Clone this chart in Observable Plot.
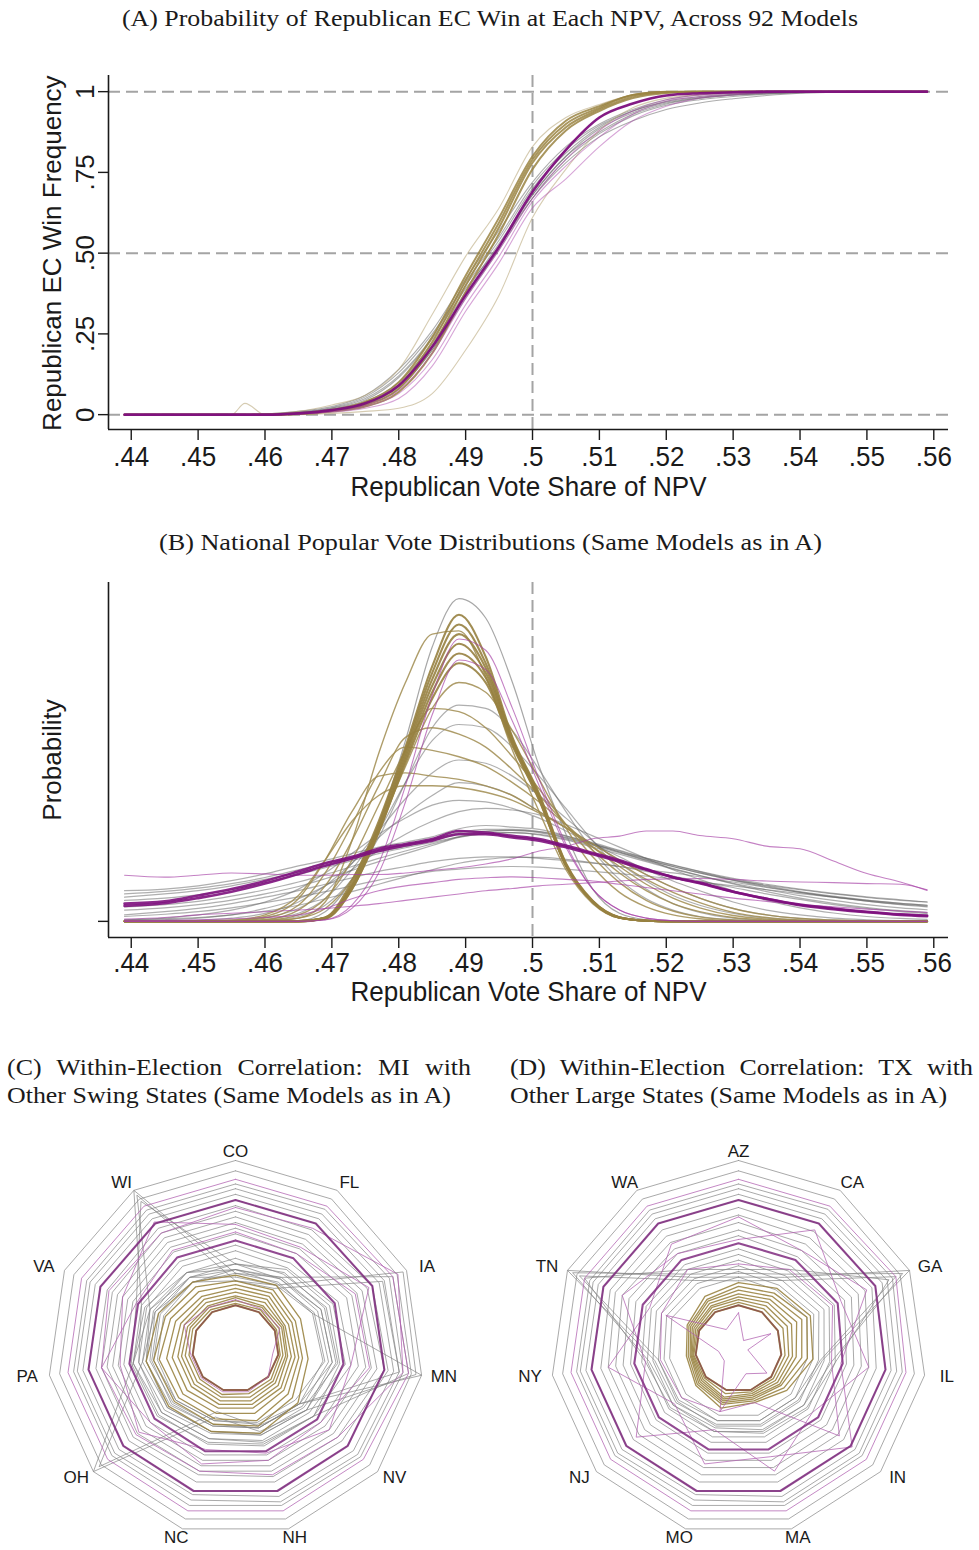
<!DOCTYPE html>
<html>
<head>
<meta charset="utf-8">
<script src="https://cdn.jsdelivr.net/npm/d3@7"></script>
<script src="https://cdn.jsdelivr.net/npm/@observablehq/plot@0.6"></script>
<style>
html,body{margin:0;padding:0;background:#fff;}
#root{position:relative;width:979px;height:1550px;overflow:hidden;background:#fff;}
.panel{position:absolute;}
.ttl{position:absolute;font-family:"Liberation Serif","Times New Roman",serif;font-size:24px;line-height:28px;white-space:nowrap;color:#1a1a1a;}
</style>
</head>
<body>
<div id="root"></div>
<script>
// ---------------- shared axis data ----------------
const xTicks = [.44,.45,.46,.47,.48,.49,.5,.51,.52,.53,.54,.55,.56];
const xTickLabels = [".44",".45",".46",".47",".48",".49",".5",".51",".52",".53",".54",".55",".56"];
const yTicksA = [0,.25,.5,.75,1];
const yTickLabelsA = ["0",".25",".50",".75","1"];
const yGuidesA = [0,.5,1];
const npvCut = [.5];

// ---------------- panel A: EC win frequency ----------------
const xA = [.439,.445,.45,.455,.457,.46,.465,.47,.475,.48,.485,.49,.495,.5,.505,.51,.515,.52,.525,.53,.535,.54,.545,.55,.559];
const aGray = [
  [0,0,0,0,0,.002,.008,.022,.055,.13,.25,.40,.54,.70,.81,.89,.94,.97,.985,.992,.996,1,1,1,1],
  [0,0,0,0,0,0,.005,.015,.04,.10,.22,.38,.53,.68,.80,.885,.935,.965,.98,.99,.995,.998,1,1,1],
  [0,0,0,0,0,0,.003,.01,.03,.08,.2,.36,.51,.67,.79,.87,.925,.958,.975,.985,.992,.997,1,1,1],
  [0,0,0,0,0,.001,.006,.018,.045,.115,.235,.39,.52,.68,.80,.875,.93,.962,.98,.99,.994,.997,.999,1,1],
  [0,0,0,0,0,0,.002,.01,.03,.085,.2,.37,.52,.67,.78,.86,.91,.945,.965,.978,.988,.995,.998,1,1],
  [0,0,0,0,0,.002,.01,.025,.06,.14,.26,.42,.57,.72,.83,.90,.945,.975,.99,.995,.998,1,1,1,1],
  [0,0,0,0,0,.001,.007,.02,.05,.12,.24,.41,.55,.71,.82,.895,.94,.968,.982,.99,.995,.998,1,1,1]
];
const aGoldLight = [
  [0,0,0,0,0,.002,.01,.03,.06,.14,.31,.49,.64,.83,.92,.96,.99,1,1,1,1,1,1,1,1],
  [0,0,0,0,.035,0,0,.004,.01,.02,.065,.2,.37,.61,.76,.88,.95,.98,.99,.995,1,1,1,1,1]
];
const aGold = [
  [0,0,0,0,0,0,.003,.012,.03,.08,.21,.40,.58,.78,.89,.945,.985,.998,1,1,1,1,1,1,1],
  [0,0,0,0,0,0,.002,.01,.025,.07,.19,.38,.56,.76,.88,.94,.98,.996,1,1,1,1,1,1,1],
  [0,0,0,0,0,0,.004,.015,.04,.10,.24,.43,.61,.80,.91,.955,.99,1,1,1,1,1,1,1,1],
  [0,0,0,0,0,0,.003,.013,.035,.09,.225,.415,.595,.79,.90,.95,.99,.999,1,1,1,1,1,1,1]
];
const aPurpleLight = [
  [0,0,0,0,0,0,.002,.008,.02,.05,.15,.32,.47,.64,.73,.83,.91,.955,.98,.99,.996,1,1,1,1],
  [0,0,0,0,0,0,.002,.01,.025,.065,.17,.34,.49,.66,.77,.86,.93,.97,.985,.995,1,1,1,1,1],
  [0,0,0,0,0,0,.003,.012,.03,.075,.19,.36,.51,.67,.79,.88,.94,.975,.99,.997,1,1,1,1,1]
];
const aPurpleMain = [
  [0,0,0,0,0,0,.004,.014,.035,.09,.21,.37,.52,.69,.82,.92,.963,.988,.995,.998,1,1,1,1,1]
];

// ---------------- panel B: NPV distributions ----------------
const xB = [.439,.445,.45,.455,.46,.465,.469,.473,.477,.481,.485,.489,.493,.497,.501,.505,.509,.513,.517,.521,.525,.53,.535,.54,.545,.55,.555,.559];
const bGoldNarrow = [
  [0,0,0,0,0,0,.12,1.25,3.1,5.4,7.9,9.5,8.2,5.7,3.95,1.8,.64,.12,.02,0,0,0,0,0,0,0,0,0],
  [0,0,0,0,0,0,.1,1.15,3.0,5.3,7.7,9.2,8.0,5.65,3.9,1.78,.62,.12,.02,0,0,0,0,0,0,0,0,0],
  [0,0,0,0,0,0,.1,1.1,2.9,5.2,7.5,8.9,7.85,5.6,3.85,1.75,.6,.11,.02,0,0,0,0,0,0,0,0,0],
  [0,0,0,0,0,0,.08,1.0,2.8,5.1,7.3,8.6,7.7,5.55,3.8,1.72,.6,.11,.02,0,0,0,0,0,0,0,0,0],
  [0,0,0,0,0,.01,.1,1.0,2.75,5.0,7.1,8.3,7.55,5.5,3.78,1.72,.6,.12,.02,0,0,0,0,0,0,0,0,0],
  [0,0,0,0,0,.01,.12,1.05,2.8,4.9,6.9,8.0,7.4,5.45,3.75,1.72,.62,.13,.02,0,0,0,0,0,0,0,0,0]
];
const bGoldWide = [
  [0,0,0,0,.01,.1,.6,2.5,5.2,7.4,8.9,9.0,7.6,5.3,3.4,1.6,.55,.1,.02,0,0,0,0,0,0,0,0,0],
  [0,0,0,0,.02,.1,.4,1.3,2.9,4.8,6.6,7.4,7.1,5.9,4.4,2.9,1.7,.9,.45,.2,.08,.02,0,0,0,0,0,0],
  [0,0,0,0,.03,.2,.7,1.9,3.6,5.3,6.6,6.5,6.0,5.1,4.1,3.0,2.0,1.2,.65,.32,.14,.04,.01,0,0,0,0,0],
  [0,0,0,0,.05,.35,1.1,2.5,4.2,5.7,6.0,5.8,5.4,4.7,3.9,3.0,2.2,1.5,.95,.55,.3,.12,.04,.01,0,0,0,0],
  [0,0,0,.01,.1,.5,1.5,3.0,4.6,5.4,5.3,5.1,4.8,4.3,3.7,3.0,2.3,1.7,1.15,.72,.42,.18,.07,.02,0,0,0,0],
  [0,0,0,.02,.15,.7,1.9,3.4,4.5,4.6,4.5,4.4,4.2,3.9,3.4,2.9,2.3,1.8,1.3,.9,.58,.28,.12,.04,.01,0,0,0],
  [0,0,.01,.04,.2,.8,1.9,3.1,3.9,4.2,4.2,4.15,4.0,3.75,3.35,2.9,2.4,1.9,1.45,1.05,.72,.4,.2,.09,.04,.01,0,0]
];
const bGrayTall = [
  [0,0,0,0,0,.02,.3,1.3,3.0,5.6,8.5,10.0,9.4,7.4,4.8,2.7,1.0,.25,.05,0,0,0,0,0,0,0,0,0]
];
const bGray = [
  [0,0,0,0,.03,.15,.5,1.3,2.6,4.3,6.0,6.7,6.6,5.9,4.7,3.4,2.2,1.3,.7,.35,.15,.05,.01,0,0,0,0,0],
  [0,0,0,.01,.06,.25,.7,1.6,2.8,4.3,5.6,6.1,6.0,5.4,4.5,3.5,2.5,1.6,1.0,.55,.28,.1,.03,.01,0,0,0,0],
  [0,0,0,.03,.12,.4,.9,1.8,2.8,3.8,4.6,5.0,4.9,4.5,3.9,3.2,2.5,1.8,1.25,.8,.5,.25,.1,.04,.01,0,0,0],
  [0,.01,.03,.1,.25,.6,1.1,1.8,2.6,3.3,3.9,4.3,4.2,3.9,3.4,2.9,2.4,1.9,1.45,1.05,.72,.4,.2,.09,.04,.01,0,0],
  [.05,.1,.2,.35,.6,1.0,1.5,2.1,2.7,3.2,3.6,3.75,3.7,3.5,3.2,2.8,2.4,2.0,1.6,1.25,.95,.6,.35,.2,.1,.05,.02,.01],
  [.02,.05,.1,.2,.4,.7,1.1,1.6,2.2,2.7,3.1,3.4,3.5,3.45,3.3,3.0,2.65,2.3,1.95,1.6,1.3,.95,.65,.42,.26,.15,.09,.06],
  [.95,1.0,1.1,1.26,1.47,1.72,1.89,2.1,2.3,2.46,2.62,2.87,2.97,2.92,2.85,2.65,2.4,2.15,1.9,1.7,1.5,1.28,1.12,.98,.85,.74,.65,.6],
  [.85,.93,1.03,1.17,1.36,1.6,1.8,2.0,2.2,2.38,2.55,2.75,2.85,2.85,2.78,2.6,2.4,2.18,1.95,1.75,1.55,1.33,1.15,1.0,.87,.76,.67,.6],
  [.75,.85,.95,1.1,1.3,1.52,1.72,1.93,2.15,2.32,2.5,2.7,2.8,2.82,2.75,2.58,2.38,2.15,1.92,1.7,1.5,1.27,1.07,.9,.75,.63,.53,.47],
  [.65,.72,.82,.98,1.2,1.45,1.66,1.88,2.1,2.28,2.45,2.62,2.72,2.75,2.68,2.52,2.3,2.08,1.85,1.62,1.42,1.18,.98,.8,.65,.52,.42,.36],
  [.35,.42,.52,.66,.85,1.08,1.32,1.58,1.85,2.1,2.35,2.6,2.72,2.75,2.7,2.55,2.35,2.12,1.88,1.64,1.42,1.16,.92,.72,.56,.43,.33,.27],
  [.45,.52,.62,.78,.98,1.22,1.45,1.7,1.95,2.18,2.4,2.62,2.78,2.82,2.78,2.64,2.44,2.2,1.96,1.74,1.54,1.3,1.1,.92,.78,.66,.56,.5],
  [.2,.3,.4,.55,.75,.95,1.15,1.35,1.55,1.7,1.85,1.95,2.0,2.0,1.95,1.88,1.8,1.7,1.6,1.5,1.38,1.22,1.05,.9,.76,.63,.52,.45],
  [.15,.22,.3,.42,.58,.76,.92,1.1,1.28,1.42,1.55,1.62,1.68,1.7,1.68,1.62,1.55,1.48,1.4,1.32,1.22,1.1,.98,.86,.75,.65,.56,.5],
  [.05,.08,.12,.2,.32,.5,.7,.92,1.15,1.38,1.6,1.8,1.92,1.98,1.98,1.92,1.82,1.7,1.55,1.4,1.25,1.05,.85,.68,.52,.4,.3,.24]
];
const bPurpleLight = [
  [1.43,1.37,1.43,1.5,1.47,1.43,1.43,1.45,1.45,1.5,1.58,1.66,1.78,1.94,2.18,2.32,2.56,2.64,2.8,2.8,2.66,2.56,2.33,2.25,1.87,1.48,1.22,.96],
  [.07,.12,.2,.25,.3,.35,.4,.47,.55,.65,.75,.85,.95,1.02,1.1,1.15,1.2,1.25,1.3,1.32,1.33,1.3,1.25,1.22,1.2,1.17,1.15,.98],
  [.02,.03,.05,.08,.12,.2,.4,.7,.95,1.1,1.2,1.3,1.35,1.38,1.35,1.3,1.25,1.15,1.05,.95,.85,.72,.62,.52,.45,.38,.32,.28],
  [0,0,0,0,0,0,.05,.5,1.8,4.2,7.0,8.75,8.4,6.6,4.4,2.4,1.0,.35,.1,.02,0,0,0,0,0,0,0,0],
  [0,0,0,0,0,0,.04,.4,1.5,3.7,6.4,8.1,7.8,6.2,4.2,2.3,1.0,.35,.1,.02,0,0,0,0,0,0,0,0]
];
const bPurpleMain = [
  [.55,.62,.8,1.0,1.25,1.55,1.8,2.0,2.25,2.4,2.55,2.8,2.75,2.65,2.55,2.35,2.12,1.89,1.62,1.37,1.2,.92,.7,.5,.38,.28,.2,.16],
  [.48,.56,.72,.92,1.17,1.47,1.72,1.95,2.18,2.35,2.5,2.7,2.7,2.6,2.5,2.3,2.08,1.85,1.6,1.37,1.18,.92,.7,.52,.4,.3,.22,.18]
];

// ---------------- panel C: MI radar ----------------
const statesC = ["CO","FL","IA","MN","NV","NH","NC","OH","PA","VA","WI"];
const cGray = [
  [1,1,1,1,1,1,1,1,1,1,1],
  [.945,.945,.945,.945,.945,.945,.945,.945,.945,.945,.945],
  [.875,.88,.9,.9,.88,.87,.87,.87,.87,.87,.875],
  [.85,.85,.87,.88,.86,.85,.84,.85,.85,.85,.85],
  [.82,.82,.84,.85,.83,.82,.81,.82,.82,.82,.82],
  [.79,.79,.8,.8,.79,.79,.79,.79,.79,.79,.79],
  [.76,.75,.8,.82,.75,.74,.74,.75,.75,.75,.76],
  [.73,.72,.77,.8,.72,.71,.7,.72,.72,.72,.73],
  [.70,.69,.74,.76,.69,.68,.68,.69,.69,.69,.70],
  [.67,.66,.71,.73,.66,.65,.65,.66,.66,.66,.67],
  [.64,.63,.68,.70,.63,.62,.62,.63,.63,.63,.64],
  [.61,.60,.65,.66,.60,.59,.59,.60,.60,.60,.61],
  [.55,.54,.60,.62,.55,.54,.53,.54,.55,.55,.55],
  [.52,.51,.57,.59,.52,.51,.50,.52,.52,.52,.52],
  [.48,.47,.53,.55,.48,.47,.46,.48,.48,.48,.48],
  [.45,.44,.50,.52,.45,.44,.43,.45,.45,.45,.45],
  [.42,.41,.46,.48,.42,.41,.40,.42,.42,.42,.42],
  [.40,.45,.50,.52,.50,.48,.47,.50,.52,.55,1.0],
  [.36,.40,.45,.47,.45,.44,.43,.46,.48,.50,.97],
  [.45,.50,.55,.56,.55,.53,.52,.55,.56,.58,.93],
  [.38,.40,.98,.97,.50,.48,.46,.48,.50,.50,.45],
  [.42,.45,.92,.93,.55,.52,.50,.52,.55,.53,.48],
  [.36,.38,.86,.88,.45,.44,.42,.44,.46,.47,.42],
  [.45,.48,.52,.54,.50,.46,.38,1.0,.55,.50,.48],
  [.42,.44,.48,.50,.47,.43,.35,.96,.50,.47,.45],
  [.40,.42,.45,1.0,.45,.42,.40,.42,.44,.44,.42]
];
const cGold = [
  [.39,.40,.38,.39,.44,.47,.46,.47,.48,.45,.42],
  [.36,.37,.35,.36,.40,.43,.42,.43,.44,.41,.39],
  [.34,.35,.33,.34,.37,.40,.39,.40,.41,.38,.36],
  [.32,.33,.31,.32,.34,.36,.36,.37,.37,.35,.33],
  [.30,.31,.29,.30,.32,.33,.33,.34,.34,.32,.31],
  [.28,.29,.28,.28,.30,.31,.31,.31,.31,.30,.29],
  [.27,.27,.27,.27,.28,.29,.29,.29,.29,.28,.27],
  [.255,.26,.255,.255,.265,.27,.27,.27,.27,.265,.26],
  [.24,.245,.24,.24,.25,.25,.255,.25,.25,.25,.245]
];
const cInner = [[.23,.23,.23,.23,.23,.23,.23,.23,.23,.23,.23]];
const cPurpleLight = [
  [.90,.90,.92,.93,.90,.90,.90,.90,.90,.90,.90],
  [.75,.76,.95,.90,.72,.70,.68,.70,.72,.74,.73],
  [.62,.60,.70,.72,.60,.62,.64,.60,.72,.58,.62],
  [.66,.64,.78,.62,.66,.58,.56,.68,.62,.66,.80],
  [.26,.25,.26,.20,.23,.24,.24,.24,.24,.30,.26]
];
const cPurpleThick = [
  [.79,.79,.80,.80,.79,.79,.79,.79,.79,.79,.79],
  [.575,.57,.58,.58,.575,.57,.57,.57,.57,.57,.575]
];

// ---------------- panel D: TX radar ----------------
const statesD = ["AZ","CA","GA","IL","IN","MA","MO","NJ","NY","TN","WA"];
const dGray = [
  [1,1,1,1,1,1,1,1,1,1,1],
  [.945,.945,.945,.945,.945,.945,.945,.945,.945,.945,.945],
  [.875,.88,.9,.88,.87,.87,.87,.87,.87,.87,.875],
  [.85,.85,.87,.85,.85,.85,.84,.85,.85,.85,.85],
  [.82,.82,.84,.82,.82,.82,.81,.82,.82,.82,.82],
  [.79,.79,.8,.79,.79,.79,.79,.79,.79,.79,.79],
  [.75,.74,.78,.74,.74,.74,.74,.74,.74,.75,.75],
  [.71,.70,.74,.70,.70,.70,.70,.70,.70,.72,.71],
  [.67,.66,.70,.66,.66,.66,.66,.66,.66,.68,.67],
  [.63,.62,.66,.62,.62,.62,.62,.62,.62,.64,.63],
  [.60,.58,.62,.58,.58,.58,.58,.58,.58,.60,.60],
  [.53,.52,.56,.52,.52,.52,.52,.52,.52,.54,.53],
  [.50,.49,.53,.49,.49,.49,.49,.49,.49,.51,.50],
  [.47,.46,.50,.46,.46,.46,.46,.46,.46,.48,.47],
  [.44,.43,.47,.43,.43,.43,.43,.43,.43,.45,.44],
  [.41,.40,.44,.40,.40,.40,.40,.40,.40,.42,.41],
  [.38,.37,.40,.37,.37,.37,.37,.37,.37,.39,.38],
  [.38,.45,1.0,.45,.42,.42,.42,.44,.45,1.0,.45],
  [.40,.47,.96,.50,.46,.45,.44,.46,.48,.97,.47],
  [.36,.43,.92,.44,.40,.40,.40,.42,.43,.93,.43],
  [.42,.50,.88,.52,.48,.47,.46,.48,.50,.90,.50]
];
const dGold = [
  [.35,.38,.42,.40,.34,.30,.33,.30,.28,.30,.33],
  [.33,.35,.40,.37,.32,.29,.31,.29,.27,.29,.31],
  [.31,.33,.37,.34,.30,.28,.30,.28,.26,.28,.30],
  [.29,.31,.34,.31,.29,.27,.29,.27,.255,.27,.285],
  [.275,.29,.31,.29,.275,.26,.28,.26,.25,.26,.27],
  [.26,.27,.285,.27,.26,.25,.27,.25,.245,.25,.26],
  [.245,.25,.26,.25,.245,.24,.25,.24,.24,.24,.245]
];
const dInner = [[.23,.23,.23,.23,.23,.23,.23,.23,.23,.23,.23]];
const dPurpleLight = [
  [.90,.90,.92,.90,.90,.90,.90,.90,.90,.90,.90],
  [.70,.62,.75,.55,.80,.60,.64,.45,.70,.52,.66],
  [.58,.75,.60,.70,.52,.68,.45,.72,.50,.68,.60],
  [.45,.50,.55,.50,.71,.30,.35,.40,.42,.45,.50],
  [.19,.05,.19,.05,.20,.14,.35,.10,.107,.425,.12]
];
const dPurpleThick = [
  [.79,.79,.80,.79,.79,.79,.79,.79,.79,.79,.79],
  [.56,.56,.58,.56,.56,.56,.56,.56,.56,.56,.56]
];

// ---------------- helpers ----------------
const SANS = "'Liberation Sans', Arial, Helvetica, sans-serif";
const root = document.getElementById("root");
function place(el, left, top){
  const d = document.createElement("div");
  d.className = "panel"; d.style.left = left + "px"; d.style.top = top + "px";
  d.appendChild(el); root.appendChild(d); return el;
}
const tickFmt = new Map(xTicks.map((t, i) => [t, xTickLabels[i]]));
function seriesRows(xs, group, key){
  return group.flatMap((vals, j) => xs.map((x, i) => ({id: key + j, x, y: vals[i]})));
}
function lineMark(xs, group, key, st){
  return Plot.line(seriesRows(xs, group, key), {x: "x", y: "y", z: "id", curve: "monotone-x", ...st});
}
const dash = {stroke: "#a4a4a4", strokeWidth: 2, strokeDasharray: "12,6"};
const spine = {stroke: "#1a1a1a", strokeWidth: 1.6};
const xDom = [.4366, .5622];

// ---------------- panel A ----------------
const yDomA = [-0.046, 1.05];
const plotA = Plot.plot({
  width: 979, height: 440, marginLeft: 108, marginRight: 31, marginTop: 15, marginBottom: 71,
  style: {fontFamily: SANS, fontSize: "28px", color: "#1a1a1a", background: "#fff", overflow: "visible"},
  x: {domain: xDom}, y: {domain: yDomA},
  marks: [
    Plot.ruleY(yGuidesA, dash),
    Plot.ruleX(npvCut, dash),
    lineMark(xA, aGray, "g", {stroke: "#6a6a6a", strokeOpacity: .55, strokeWidth: 1.1}),
    lineMark(xA, aGoldLight, "l", {stroke: "#b4a272", strokeOpacity: .55, strokeWidth: 1.1}),
    lineMark(xA, aGold, "o", {stroke: "#9a8442", strokeOpacity: .85, strokeWidth: 2}),
    lineMark(xA, aPurpleLight, "p", {stroke: "#b04cb0", strokeOpacity: .5, strokeWidth: 1.1}),
    lineMark(xA, aPurpleMain, "m", {stroke: "#7d0f7d", strokeOpacity: .95, strokeWidth: 2.6}),
    Plot.ruleX([xDom[0]], spine),
    Plot.ruleY([yDomA[0]], spine),
    Plot.axisX({ticks: xTicks, tickSize: 11, tickPadding: 6, tickFormat: d => tickFmt.get(d), label: null, strokeWidth: 1.4}),
    Plot.axisY({ticks: yTicksA, tickSize: 10, tickFormat: () => "", label: null, strokeWidth: 1.4}),
    Plot.text(yTicksA, {y: d => d, text: (d, i) => yTickLabelsA[i], frameAnchor: "left", dx: -23, rotate: -90, textAnchor: "middle", lineAnchor: "middle", fontSize: 26}),
    Plot.text([.5], {y: d => d, text: () => "Republican EC Win Frequency", frameAnchor: "left", dx: -56, rotate: -90, textAnchor: "middle", lineAnchor: "middle", fontSize: 26}),
    Plot.text(["Republican Vote Share of NPV"], {text: d => d, frameAnchor: "bottom", dy: 58, textAnchor: "middle", lineAnchor: "middle"})
  ]
});
place(plotA, 0, 60);

// ---------------- panel B ----------------
const yDomB = [-0.5, 10.5];
const plotB = Plot.plot({
  width: 979, height: 450, marginLeft: 108, marginRight: 31, marginTop: 22, marginBottom: 73,
  style: {fontFamily: SANS, fontSize: "28px", color: "#1a1a1a", background: "#fff", overflow: "visible"},
  x: {domain: xDom}, y: {domain: yDomB},
  marks: [
    Plot.ruleX(npvCut, dash),
    lineMark(xB, bGray, "g", {stroke: "#5f5f5f", strokeOpacity: .5, strokeWidth: 1.2}),
    lineMark(xB, bGrayTall, "t", {stroke: "#8a8a8a", strokeOpacity: .75, strokeWidth: 1.2}),
    lineMark(xB, bGoldWide, "w", {stroke: "#a08c50", strokeOpacity: .85, strokeWidth: 1.4}),
    lineMark(xB, bGoldNarrow, "n", {stroke: "#978140", strokeOpacity: .9, strokeWidth: 2.1}),
    lineMark(xB, bPurpleLight, "p", {stroke: "#a43ea4", strokeOpacity: .65, strokeWidth: 1.1}),
    lineMark(xB, bPurpleMain, "m", {stroke: "#7d0f7d", strokeOpacity: .9, strokeWidth: 2.6}),
    Plot.ruleX([xDom[0]], spine),
    Plot.ruleY([yDomB[0]], spine),
    Plot.axisX({ticks: xTicks, tickSize: 11, tickPadding: 4, tickFormat: d => tickFmt.get(d), label: null, strokeWidth: 1.4}),
    Plot.axisY({ticks: [0], tickSize: 10, tickFormat: () => "", label: null, strokeWidth: 1.4}),
    Plot.text([5], {y: d => d, text: () => "Probability", frameAnchor: "left", dx: -56, rotate: -90, textAnchor: "middle", lineAnchor: "middle", fontSize: 26}),
    Plot.text(["Republican Vote Share of NPV"], {text: d => d, frameAnchor: "bottom", dy: 55, textAnchor: "middle", lineAnchor: "middle"})
  ]
});
place(plotB, 0, 560);

// ---------------- radar panels ----------------
function radar(states, gray, gold, inner, purpleLight, purpleThick, width, mL, mR){
  const n = states.length;
  const ang = k => 2 * Math.PI * k / n;
  const px = d => d.v * Math.sin(ang(d.k));
  const py = d => d.v * Math.cos(ang(d.k));
  const rows = (grp, key) => grp.flatMap((vals, j) => d3.range(n + 1).map(i => ({id: key + j, k: i % n, v: vals[i % n]})));
  const m = (grp, key, st) => Plot.line(rows(grp, key), {x: px, y: py, z: "id", ...st});
  return Plot.plot({
    width, height: 420, marginLeft: mL, marginRight: mR, marginTop: 30, marginBottom: 14,
    x: {domain: [-1, 1], axis: null}, y: {domain: [-1, 1], axis: null},
    style: {fontFamily: SANS, fontSize: "17px", color: "#1a1a1a", background: "#fff", overflow: "visible"},
    marks: [
      m(gray, "g", {stroke: "#858585", strokeOpacity: .7, strokeWidth: 1}),
      m(gold, "o", {stroke: "#9a8442", strokeOpacity: .9, strokeWidth: 1.3}),
      m(inner, "i", {stroke: "#9a8442", strokeWidth: 2}),
      m(inner, "j", {stroke: "#8a3a5a", strokeOpacity: .6, strokeWidth: 1.4}),
      m(purpleLight, "p", {stroke: "#b060b0", strokeOpacity: .75, strokeWidth: 1}),
      m(purpleThick, "t", {stroke: "#7f2a7f", strokeOpacity: .85, strokeWidth: 2.1}),
      Plot.text(states, {x: (d, i) => 1.12 * Math.sin(ang(i)), y: (d, i) => 1.05 * Math.cos(ang(i)), text: d => d, textAnchor: "middle", lineAnchor: "middle"})
    ]
  });
}
const plotC = radar(statesC, cGray, cGold, cInner, cPurpleLight, cPurpleThick, 490, 47, 67);
place(plotC, 0, 1130);
const plotD = radar(statesD, dGray, dGold, dInner, dPurpleLight, dPurpleThick, 489, 60, 53);
place(plotD, 490, 1130);

// ---------------- condense horizontal axis text (narrow sans look) ----------------
function condense(svg, f){
  svg.querySelectorAll("text").forEach(t => {
    const tr = (t.getAttribute("transform") || "") + (t.parentNode.getAttribute && (t.parentNode.getAttribute("transform") || ""));
    if (tr.includes("rotate")) return;
    const L = t.getComputedTextLength();
    if (L > 0) { t.setAttribute("textLength", (L * f).toFixed(2)); t.setAttribute("lengthAdjust", "spacingAndGlyphs"); }
  });
}
condense(plotA, 0.93);
condense(plotB, 0.93);

// ---------------- titles ----------------
function titleLine(text, left, top, target){
  const d = document.createElement("div");
  d.className = "ttl"; d.style.left = left + "px"; d.style.top = top + "px";
  d.textContent = text; root.appendChild(d);
  const w = d.getBoundingClientRect().width;
  const s = target / w;
  d.style.transformOrigin = "0 0"; d.style.transform = `scaleX(${s})`;
  return s;
}
function justLine(text, left, top, target, s){
  const d = document.createElement("div");
  d.className = "ttl"; d.style.left = left + "px"; d.style.top = top + "px";
  d.style.width = (target / s) + "px"; d.style.textAlign = "justify"; d.style.textAlignLast = "justify";
  d.style.whiteSpace = "normal";
  d.textContent = text; root.appendChild(d);
  d.style.transformOrigin = "0 0"; d.style.transform = `scaleX(${s})`;
}
titleLine("(A) Probability of Republican EC Win at Each NPV, Across 92 Models", 122, 4, 736);
titleLine("(B) National Popular Vote Distributions (Same Models as in A)", 159, 528, 663);
const sC = titleLine("Other Swing States (Same Models as in A)", 7, 1081, 444);
justLine("(C) Within-Election Correlation: MI with", 7, 1053, 464, sC);
const sD = titleLine("Other Large States (Same Models as in A)", 510, 1081, 437);
justLine("(D) Within-Election Correlation: TX with", 510, 1053, 463, sD);
</script>
</body>
</html>
